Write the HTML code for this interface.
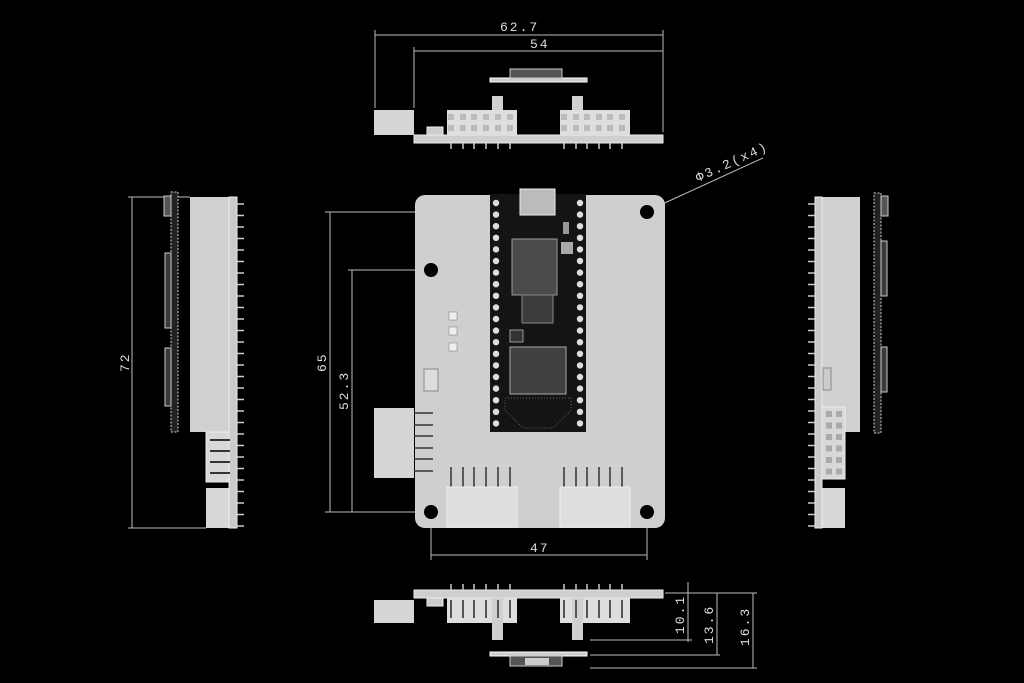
<!DOCTYPE html>
<html><head><meta charset="utf-8"><style>
html,body{margin:0;padding:0;background:#000;}
svg{display:block}
text{font-family:"Liberation Mono",monospace;fill:#ddd;font-size:13px;letter-spacing:2px}
</style></head><body>
<svg id="s" width="1024" height="683" viewBox="0 0 1024 683" xmlns="http://www.w3.org/2000/svg">
<rect width="1024" height="683" fill="#000"/>
<g stroke="#bbb" stroke-width="1" fill="none">
<line x1="375" y1="35" x2="663" y2="35"/><line x1="375" y1="30" x2="375" y2="108"/><line x1="663" y1="30" x2="663" y2="132"/>
<line x1="414" y1="51" x2="663" y2="51"/><line x1="414" y1="47" x2="414" y2="108"/>
<line x1="132" y1="197" x2="132" y2="528"/><line x1="128" y1="197" x2="190" y2="197"/><line x1="128" y1="528" x2="206" y2="528"/>
<line x1="330" y1="212" x2="330" y2="512"/><line x1="325" y1="212" x2="640" y2="212"/><line x1="325" y1="512" x2="424" y2="512"/>
<line x1="352" y1="270" x2="352" y2="512"/><line x1="348" y1="270" x2="424" y2="270"/>
<line x1="431" y1="555" x2="647" y2="555"/><line x1="431" y1="519" x2="431" y2="560"/><line x1="647" y1="519" x2="647" y2="560"/>
<line x1="645" y1="212" x2="763" y2="158"/>
<line x1="665" y1="593" x2="757" y2="593"/>
<line x1="590" y1="640" x2="692" y2="640"/>
<line x1="590" y1="655" x2="720" y2="655"/>
<line x1="590" y1="668" x2="757" y2="668"/>
<line x1="688" y1="582" x2="688" y2="642"/>
<line x1="717" y1="593" x2="717" y2="655"/>
<line x1="753" y1="593" x2="753" y2="668"/>
</g>
<text x="500" y="31">62.7</text>
<text x="530" y="48">54</text>
<text x="530" y="552">47</text>
<text transform="translate(129,372) rotate(-90)">72</text>
<text transform="translate(326,372) rotate(-90)">65</text>
<text transform="translate(348,410) rotate(-90)">52.3</text>
<text transform="translate(684,634) rotate(-90)">10.1</text>
<text transform="translate(713,644) rotate(-90)">13.6</text>
<text transform="translate(749,646) rotate(-90)">16.3</text>
<text transform="translate(698,182) rotate(-24.6)">Φ3.2(x4)</text>

<rect x="415" y="195" width="250" height="333" rx="10" fill="#cfcfcf"/>
<rect x="374" y="408" width="40" height="70" fill="#d6d6d6"/>
<g id="mainpins" stroke="#333" stroke-width="1.5"></g>
<rect x="447" y="487" width="70" height="40" fill="#dedede" stroke="#eee"/>
<rect x="560" y="487" width="70" height="40" fill="#dedede" stroke="#eee"/>
<g fill="#000"><circle cx="647" cy="212" r="7"/><circle cx="431" cy="270" r="7"/><circle cx="431" cy="512" r="7"/><circle cx="647" cy="512" r="7"/></g>
<rect x="424" y="369" width="14" height="22" fill="#ddd" stroke="#888"/>
<g fill="#eee" stroke="#777" stroke-width=".5"><rect x="449" y="312" width="8" height="8"/><rect x="449" y="327" width="8" height="8"/><rect x="449" y="343" width="8" height="8"/></g>
<rect x="490" y="194" width="96" height="238" fill="#141414"/>
<g id="tpins" fill="#ddd"></g>
<rect x="520" y="189" width="35" height="26" fill="#bbb" stroke="#eee"/>
<rect x="512" y="239" width="45" height="56" fill="#4a4a4a" stroke="#999"/>
<rect x="522" y="295" width="31" height="28" fill="#3c3c3c" stroke="#888"/>
<rect x="510" y="347" width="56" height="47" fill="#404040" stroke="#aaa"/>
<rect x="510" y="330" width="13" height="12" fill="#333" stroke="#999"/>
<rect x="561" y="242" width="12" height="12" fill="#aaa"/>
<rect x="563" y="222" width="6" height="12" fill="#999"/>
<path d="M505 398 L571 398 L571 410 L553 428 L523 428 L505 410Z" fill="none" stroke="#666" stroke-dasharray="1 2"/>

<rect x="374" y="110" width="40" height="25" fill="#d6d6d6"/>
<rect x="414" y="135" width="249" height="8" fill="#cfcfcf" stroke="#eee"/>
<rect x="447" y="110" width="70" height="25" fill="#dedede"/>
<rect x="560" y="110" width="70" height="25" fill="#dedede"/>
<rect x="492" y="96" width="11" height="14" fill="#d0d0d0"/>
<rect x="572" y="96" width="11" height="14" fill="#d0d0d0"/>
<rect x="427" y="127" width="16" height="8" fill="#ccc" stroke="#eee"/>
<rect x="490" y="78" width="97" height="4" fill="#ccc" stroke="#fff"/>
<rect x="510" y="69" width="52" height="9" fill="#555" stroke="#ccc"/>
<g id="topsq" fill="#bbb"></g>
<g id="toppins" stroke="#ccc" stroke-width="1.5"></g>

<rect x="374" y="600" width="40" height="23" fill="#d6d6d6"/>
<rect x="414" y="590" width="249" height="8" fill="#cfcfcf" stroke="#eee"/>
<rect x="447" y="598" width="70" height="25" fill="#dedede"/>
<rect x="560" y="598" width="70" height="25" fill="#dedede"/>
<rect x="492" y="598" width="11" height="42" fill="#d0d0d0"/>
<rect x="572" y="598" width="11" height="42" fill="#d0d0d0"/>
<rect x="427" y="598" width="16" height="8" fill="#ccc" stroke="#eee"/>
<rect x="490" y="652" width="97" height="4" fill="#ccc" stroke="#fff"/>
<rect x="510" y="656" width="52" height="10" fill="#555" stroke="#ccc"/>
<rect x="525" y="658" width="24" height="7" fill="#ccc"/>
<g id="botpins" stroke="#ccc" stroke-width="1.5"></g>
<g id="botslots" stroke="#555" stroke-width="2"></g>

<rect x="190" y="197" width="47" height="235" fill="#d0d0d0"/>
<rect x="206" y="432" width="31" height="50" fill="#d8d8d8" stroke="#eee"/>
<rect x="206" y="488" width="31" height="40" fill="#d8d8d8"/>
<rect x="229" y="197" width="8" height="331" fill="#cacaca" stroke="#eee"/>
<g id="lpins" stroke="#ccc" stroke-width="1.5"></g>
<rect x="171" y="192" width="7" height="240" fill="#222" stroke="#ccc" stroke-dasharray="2 1.5"/>
<rect x="164" y="196" width="7" height="20" fill="#555" stroke="#ccc"/>
<rect x="165" y="253" width="6" height="75" fill="#3a3a3a" stroke="#ccc"/>
<rect x="165" y="348" width="6" height="58" fill="#3a3a3a" stroke="#ccc"/>
<g stroke="#333" stroke-width="2"><line x1="210" y1="440" x2="230" y2="440"/><line x1="210" y1="451" x2="230" y2="451"/><line x1="210" y1="462" x2="230" y2="462"/><line x1="210" y1="473" x2="230" y2="473"/></g>

<rect x="822" y="197" width="38" height="235" fill="#d0d0d0"/>
<rect x="822" y="407" width="23" height="72" fill="#d8d8d8" stroke="#eee"/>
<rect x="822" y="488" width="23" height="40" fill="#d8d8d8"/>
<rect x="815" y="197" width="7" height="331" fill="#cacaca" stroke="#eee"/>
<g id="rsq" fill="#aaa"></g>
<g id="rpins" stroke="#ccc" stroke-width="1.5"></g>
<rect x="874" y="193" width="7" height="240" fill="#222" stroke="#ccc" stroke-dasharray="2 1.5"/>
<rect x="881" y="196" width="7" height="20" fill="#555" stroke="#ccc"/>
<rect x="881" y="241" width="6" height="55" fill="#3a3a3a" stroke="#ccc"/>
<rect x="881" y="347" width="6" height="45" fill="#3a3a3a" stroke="#ccc"/>
<rect x="823" y="368" width="8" height="22" fill="#ccc" stroke="#888"/>
</svg>
<script>
var NS="http://www.w3.org/2000/svg";
function el(g,t,a){var e=document.createElementNS(NS,t);for(var k in a)e.setAttribute(k,a[k]);document.getElementById(g).appendChild(e);}
[413,425,436,448,459,471].forEach(function(y){el("mainpins","line",{x1:414,y1:y,x2:433,y2:y});});
var xs1=[451,463,474,486,498,510],xs2=[564,576,587,599,610,622];
xs1.concat(xs2).forEach(function(x){el("mainpins","line",{x1:x,y1:467,x2:x,y2:487});
 el("toppins","line",{x1:x,y1:143,x2:x,y2:149});el("botpins","line",{x1:x,y1:584,x2:x,y2:590});
 el("botslots","line",{x1:x,y1:600,x2:x,y2:618});});
xs1.concat(xs2).forEach(function(x){el("topsq","rect",{x:x-3,y:114,width:6,height:6});el("topsq","rect",{x:x-3,y:125,width:6,height:6});});
for(var i=0;i<20;i++){var y=203+i*11.6;el("tpins","circle",{cx:496,cy:y,r:3.2});el("tpins","circle",{cx:580,cy:y,r:3.2});}
for(var i=0;i<29;i++){var y=204+i*11.5;el("lpins","line",{x1:237,y1:y,x2:244,y2:y});el("rpins","line",{x1:808,y1:y,x2:815,y2:y});}
for(var r=0;r<6;r++){for(var c=0;c<2;c++){el("rsq","rect",{x:826+c*10,y:411+r*11.5,width:6,height:6});}}
</script>
</body></html>
